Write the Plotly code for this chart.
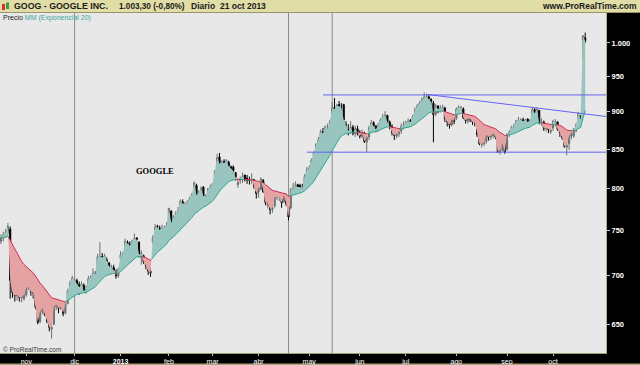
import numpy as np
import plotly.graph_objects as go

# ---------------- data (daily OHLC, GOOG, Oct 2012 - 21 Oct 2013) ----------------
opens = [
    738, 742, 745, 748, 752, 693, 683, 679, 680, 677, 676,
    680, 688, 688, 683, 680, 665, 653, 663, 667, 660, 653, 645, 650, 668, 670, 666, 668, 661, 671, 684, 692,
    691, 695, 691, 689, 690, 684, 686, 697, 699, 702, 704, 720, 721, 719, 717, 714, 707, 709, 702, 700,
    719, 724, 725, 737, 735, 733, 740, 742, 737, 720, 722, 717, 711, 705, 737, 751, 755, 753, 750, 751, 753,
    758, 773, 760, 765, 770, 775, 784, 780, 780, 782, 786, 793, 804, 791, 798, 802, 789, 791, 798,
    798, 805, 824, 840, 833, 834, 831, 833, 827, 827, 820, 805, 810, 814, 817, 813, 811, 810, 811, 801,
    796, 799, 810, 795, 779, 783, 775, 779, 790, 790, 788, 784, 790, 779, 777, 799, 800, 805, 804, 801, 801, 813,
    823, 827, 841, 849, 857, 863, 873, 870, 876, 878, 889, 906, 904, 910, 906, 910, 882, 876, 873, 879, 870, 877,
    871, 867, 871, 859, 866, 879, 885, 880, 876, 882, 890, 893, 895, 886, 880, 872, 867, 870, 874, 880,
    882, 885, 888, 887, 894, 903, 908, 912, 916, 920, 921, 917, 912, 897, 908, 905, 903, 905, 891, 886, 882, 891,
    891, 903, 906, 904, 892, 887, 891, 890, 886, 885, 866, 856, 857, 860, 869, 866, 868, 870, 866, 847, 849, 858,
    850, 869, 873, 879, 882, 888, 888, 889, 887, 890, 886, 889, 903, 898, 902, 884, 886, 877, 878, 873,
    878, 884, 886, 875, 867, 865, 853, 857, 867, 867, 874, 885, 895, 1005, 1008,
]
highs = [
    746, 749, 752, 759, 755, 694, 684, 684, 683, 681, 683,
    690, 697, 690, 686, 682, 668, 666, 670, 668, 662, 656, 652, 670, 673, 671, 670, 669, 673, 686, 695, 700,
    697, 697, 694, 694, 692, 690, 700, 701, 708, 705, 724, 737, 725, 724, 720, 715, 712, 712, 707, 709,
    727, 726, 741, 739, 738, 740, 747, 742, 738, 728, 723, 719, 712, 708, 745, 758, 757, 756, 757, 756, 760,
    777, 774, 768, 773, 778, 787, 787, 784, 786, 790, 795, 809, 806, 798, 803, 803, 793, 801, 805,
    807, 823, 844, 845, 836, 837, 837, 835, 829, 829, 820, 813, 815, 820, 817, 817, 815, 819, 812, 804,
    803, 814, 812, 797, 786, 786, 780, 792, 796, 792, 791, 795, 794, 781, 801, 807, 809, 806, 806, 806, 818, 827,
    829, 838, 847, 858, 866, 876, 878, 881, 884, 889, 913, 919, 911, 915, 912, 911, 887, 883, 887, 882, 881, 881,
    875, 876, 873, 869, 881, 889, 887, 882, 885, 891, 897, 901, 896, 888, 883, 875, 874, 877, 884, 887,
    888, 891, 890, 896, 906, 911, 915, 920, 927, 925, 923, 919, 915, 911, 909, 909, 910, 907, 894, 889, 894, 893,
    906, 909, 908, 906, 893, 894, 894, 892, 888, 886, 868, 861, 863, 872, 872, 872, 874, 873, 867, 854, 862, 860,
    871, 875, 881, 884, 889, 893, 891, 892, 890, 891, 890, 906, 905, 906, 902, 891, 888, 882, 880, 880,
    889, 890, 887, 877, 872, 866, 859, 869, 873, 878, 884, 900, 894, 1012, 1016,
]
lows = [
    735, 738, 742, 745, 676, 677, 673, 674, 673, 672, 674,
    678, 685, 679, 676, 665, 650, 651, 660, 658, 651, 643, 636, 649, 664, 661, 664, 658, 660, 670, 682, 690,
    689, 688, 680, 684, 682, 681, 684, 694, 697, 699, 702, 716, 716, 717, 711, 708, 703, 703, 697, 698,
    716, 717, 723, 730, 728, 730, 737, 734, 720, 712, 713, 707, 701, 699, 735, 745, 749, 747, 749, 749, 749,
    757, 757, 757, 762, 767, 773, 778, 776, 778, 780, 784, 791, 790, 785, 793, 789, 779, 788, 794,
    795, 804, 822, 829, 828, 829, 828, 826, 820, 817, 810, 801, 806, 807, 809, 806, 805, 806, 800, 788,
    789, 799, 795, 780, 776, 769, 771, 777, 786, 785, 777, 783, 779, 762, 775, 795, 796, 798, 796, 796, 800, 812,
    818, 823, 840, 848, 855, 860, 869, 866, 873, 876, 887, 898, 898, 905, 900, 885, 876, 868, 870, 868, 866, 868,
    864, 864, 858, 846, 862, 877, 877, 872, 873, 879, 887, 889, 884, 876, 868, 862, 864, 866, 870, 876,
    878, 882, 882, 885, 892, 900, 905, 909, 913, 915, 913, 909, 859, 894, 898, 899, 900, 886, 880, 877, 880, 883,
    889, 900, 901, 890, 884, 884, 886, 882, 880, 866, 855, 852, 854, 857, 861, 862, 864, 863, 845, 843, 847, 844,
    848, 866, 870, 872, 880, 884, 884, 884, 882, 882, 883, 887, 895, 897, 883, 881, 874, 873, 871, 870,
    874, 880, 874, 866, 862, 852, 842, 849, 863, 865, 872, 884, 885, 975, 1000,
]
closes = [
    742, 745, 748, 755, 695, 682, 679, 680, 677, 678, 680,
    688, 688, 683, 682, 667, 652, 663, 666, 660, 653, 647, 647, 668, 670, 666, 668, 661, 671, 684, 692, 698,
    695, 691, 688, 691, 684, 685, 697, 698, 703, 702, 721, 721, 720, 722, 716, 710, 709, 706, 700, 707,
    723, 724, 738, 735, 733, 738, 741, 740, 723, 725, 715, 711, 705, 703, 742, 754, 754, 751, 754, 754, 756,
    776, 759, 766, 770, 774, 785, 782, 781, 783, 788, 793, 807, 792, 796, 800, 791, 790, 800, 801,
    806, 822, 839, 831, 833, 832, 835, 828, 825, 822, 814, 808, 811, 815, 811, 810, 810, 812, 803, 794,
    801, 812, 796, 783, 783, 775, 777, 790, 790, 790, 783, 792, 782, 766, 799, 800, 804, 802, 802, 801, 815, 824,
    825, 836, 845, 856, 862, 873, 871, 880, 877, 887, 905, 904, 909, 908, 906, 889, 882, 874, 879, 871, 877, 871,
    867, 872, 860, 866, 878, 885, 880, 876, 882, 889, 893, 895, 886, 880, 872, 868, 870, 873, 880, 881,
    885, 887, 886, 893, 903, 908, 912, 917, 920, 921, 918, 914, 896, 908, 904, 905, 906, 890, 886, 882, 890, 887,
    904, 906, 906, 892, 888, 891, 890, 886, 885, 869, 857, 857, 859, 869, 866, 868, 871, 866, 846, 849, 858, 846,
    869, 872, 879, 879, 888, 888, 889, 887, 889, 886, 888, 903, 898, 903, 885, 886, 877, 878, 876, 875,
    887, 887, 876, 872, 865, 853, 855, 868, 871, 876, 882, 898, 889, 1011, 1003.3,
]

month_labels = ["nov", "dic", "<b>2013</b>", "feb", "mar", "abr", "may", "jun", "jul", "ago", "sep", "oct"]
month_start_index = [11, 32, 52, 73, 92, 112, 134, 156, 176, 198, 220, 240]

price_tick_vals = [650, 700, 750, 800, 850, 900, 950, 1000]
price_tick_text = ["650", "700", "750", "800", "850", "900", "950", "1.000"]

ema_period = 20
support_level = 846
support_start = 133
resistance_level = 923.5
resistance_start = 140
trend_x = [185, 263]
trend_y = [924.3, 893.5]
marker_lines = [32, 125, 144]

assert len(opens) == len(highs) == len(lows) == len(closes)

# ---------------- geometry ----------------
W, H = 640, 365
PL, PR, PT, PB = 0, 606, 13, 353
X_RANGE = [-0.435, 263.04]
Y_RANGE = [np.log10(622.0), np.log10(1047.0)]

def px(x):
    return x / W

def py(y):
    return 1 - y / H

GREEN_LINE = "#2aa889"
RED_LINE = "#d6284f"
GREEN_FILL = "#98c5bf"
RED_FILL = "#e4a2a2"

c = np.array(closes, float)
idx = np.arange(len(c))
ema = np.empty_like(c)
ema[0] = c[0]
a = 2.0 / (ema_period + 1)
for k in range(1, len(c)):
    ema[k] = a * c[k] + (1 - a) * ema[k - 1]

lc, le = np.log10(c), np.log10(ema)
d = lc - le
segs = []
cur = d[0] >= 0
xs, yc, ye = [float(idx[0])], [lc[0]], [le[0]]
for k in range(1, len(c)):
    s = d[k] >= 0
    if s != cur:
        t = d[k - 1] / (d[k - 1] - d[k])
        xc = idx[k - 1] + t
        yx = le[k - 1] + t * (le[k] - le[k - 1])
        xs.append(xc); yc.append(yx); ye.append(yx)
        segs.append((cur, xs, yc, ye))
        cur = s
        xs, yc, ye = [xc], [yx], [yx]
    xs.append(float(idx[k])); yc.append(lc[k]); ye.append(le[k])
segs.append((cur, xs, yc, ye))

fig = go.Figure()
for up, sx, syc, sye in segs:
    polx = list(sx) + list(sx[::-1])
    poly = list(10 ** np.array(syc)) + list(10 ** np.array(sye[::-1]))
    fig.add_trace(go.Scatter(x=polx, y=poly, mode="lines", line=dict(width=0),
                             fill="toself", fillcolor=GREEN_FILL if up else RED_FILL,
                             hoverinfo="skip", showlegend=False))
for up, sx, syc, sye in segs:
    fig.add_trace(go.Scatter(x=sx, y=list(10 ** np.array(sye)), mode="lines",
                             line=dict(width=1, color=GREEN_LINE if up else RED_LINE),
                             hoverinfo="skip", showlegend=False))

fig.add_trace(go.Candlestick(
    x=idx, open=opens, high=highs, low=lows, close=closes,
    increasing=dict(line=dict(color="#6e6e6e", width=1), fillcolor="#808080"),
    decreasing=dict(line=dict(color="#000000", width=1), fillcolor="#000000"),
    whiskerwidth=0, showlegend=False, hoverinfo="skip"))

BLUE = "#6464f0"
fig.add_trace(go.Scatter(x=[resistance_start, X_RANGE[1]], y=[resistance_level] * 2, mode="lines",
                         line=dict(color=BLUE, width=1), showlegend=False, hoverinfo="skip"))
fig.add_trace(go.Scatter(x=[support_start, X_RANGE[1]], y=[support_level] * 2, mode="lines",
                         line=dict(color=BLUE, width=1), showlegend=False, hoverinfo="skip"))
fig.add_trace(go.Scatter(x=trend_x, y=trend_y, mode="lines",
                         line=dict(color=BLUE, width=1), showlegend=False, hoverinfo="skip"))

shapes = []
for m in marker_lines:
    shapes.append(dict(type="line", xref="x", yref="paper", x0=m, x1=m, y0=py(PB), y1=py(PT),
                       line=dict(color="#8c8c8c", width=1), layer="below"))
# header band
shapes.append(dict(type="rect", xref="paper", yref="paper", x0=0, x1=1, y0=py(12.5), y1=1,
                   fillcolor="#e1dda6", line=dict(width=0), layer="below"))
shapes.append(dict(type="line", xref="paper", yref="paper", x0=0, x1=1, y0=py(12.5), y1=py(12.5),
                   line=dict(color="#9a966c", width=1), layer="below"))
# bottom khaki edge
shapes.append(dict(type="rect", xref="paper", yref="paper", x0=0, x1=1, y0=0, y1=py(363.5),
                   fillcolor="#a8a47c", line=dict(width=0), layer="below"))
# tiny icon in header
shapes.append(dict(type="rect", xref="paper", yref="paper", x0=px(2), x1=px(5), y0=py(10), y1=py(4),
                   fillcolor="#d83030", line=dict(width=0), layer="below"))
shapes.append(dict(type="rect", xref="paper", yref="paper", x0=px(6), x1=px(9), y0=py(9), y1=py(2.5),
                   fillcolor="#30a040", line=dict(width=0), layer="below"))

SANS = "Liberation Sans, Arial, sans-serif"
ann = []
def text(x, y, s, size, color="#1a1a1a", xanchor="left", family=SANS):
    ann.append(dict(xref="paper", yref="paper", x=px(x), y=py(y), text=s, showarrow=False,
                    xanchor=xanchor, yanchor="middle", font=dict(size=size, color=color, family=family)))

text(12, 6.5, "<b>GOOG - GOOGLE INC.</b>", 8.8)
text(117, 6.5, "<b>1.003,30 (-0,80%)</b>", 8.2)
text(189, 6.5, "<b>Diario</b>", 8.5)
text(218, 6.5, "<b>21 oct 2013</b>", 8.5)
text(639, 6.5, "<b>www.ProRealTime.com</b>", 8.5, xanchor="right")
text(1, 18.5, "Precio <span style='color:#3aa89a'>MM (Exponencial 20)</span>", 7)
text(155, 171, "<b>GOOGLE</b>", 8.5, color="#000000", xanchor="center", family="Liberation Serif, serif")
text(1, 349, "© ProRealTime.com", 6.5, color="#3c3c3c")

fig.update_layout(
    width=W, height=H, margin=dict(l=0, r=0, t=0, b=0),
    paper_bgcolor="#000000", plot_bgcolor="#e8e8e8",
    showlegend=False, shapes=shapes, annotations=ann,
    xaxis=dict(domain=[px(PL), px(PR)], range=X_RANGE, type="linear",
               tickmode="array", tickvals=month_start_index, ticktext=month_labels,
               ticks="outside", ticklen=2, tickcolor="#c8c8c8", tickwidth=1,
               tickfont=dict(size=7, color="#ffffff", family=SANS),
               showgrid=False, zeroline=False, showline=True, linecolor="#a09c70", linewidth=1,
               rangeslider=dict(visible=False), fixedrange=True),
    yaxis=dict(domain=[py(PB), py(PT)], type="log", range=Y_RANGE, side="right",
               tickmode="array", tickvals=price_tick_vals,
               ticktext=["<b>%s</b>" % t for t in price_tick_text],
               ticks="outside", ticklen=3, tickcolor="#c8c8c8", tickwidth=1,
               tickfont=dict(size=7.5, color="#ffffff", family=SANS),
               showgrid=False, zeroline=False, showline=True, linecolor="#b0ad90", linewidth=1,
               fixedrange=True),
)

fig.write_html("out.html")
